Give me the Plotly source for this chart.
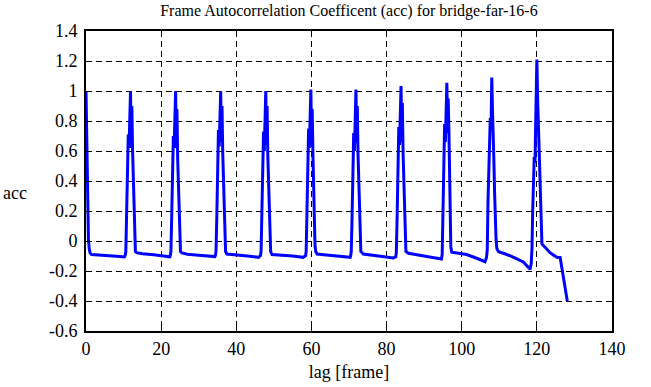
import plotly.graph_objects as go

# ---- data (lag in frames, autocorrelation coefficient) ----
lag_c0 = [0, 0.1, 0.2, 0.3, 0.4, 0.5, 0.65, 0.85, 1.1, 1.5, 3, 5, 7, 9, 10.2]
acc_c0 = [1.0, 0.81, 0.53, 0.41, 0.28, 0.14, 0.01, -0.05, -0.08, -0.09, -0.092, -0.094, -0.098, -0.104, -0.106]

lag_c12 = [10.45, 10.6, 10.8, 11.0, 11.25, 11.45, 11.65, 11.85, 12.05, 12.2, 12.4, 12.6, 12.8, 12.95, 13.15, 13.5, 15, 18, 21, 22.3]
acc_c12 = [-0.095, -0.07, 0.13, 0.42, 0.71, 0.62, 0.86, 1.0, 0.62, 0.9, 0.6, 0.38, 0.14, -0.03, -0.07, -0.078, -0.085, -0.092, -0.10, -0.105]

lag_c24 = [22.45, 22.6, 22.8, 23.0, 23.25, 23.45, 23.65, 23.85, 24.05, 24.2, 24.4, 24.6, 24.8, 24.95, 25.15, 25.5, 27, 30, 33, 34.3]
acc_c24 = [-0.095, -0.07, 0.15, 0.45, 0.7, 0.62, 0.9, 1.0, 0.62, 0.88, 0.55, 0.33, 0.12, -0.03, -0.07, -0.08, -0.088, -0.095, -0.10, -0.104]

lag_c36 = [34.45, 34.6, 34.8, 35.0, 35.25, 35.45, 35.65, 35.85, 36.05, 36.2, 36.4, 36.6, 36.8, 36.95, 37.15, 37.5, 40, 43, 45.9]
acc_c36 = [-0.097, -0.07, 0.14, 0.42, 0.74, 0.63, 0.86, 1.0, 0.66, 0.9, 0.58, 0.35, 0.12, -0.03, -0.07, -0.087, -0.092, -0.10, -0.109]

lag_c48 = [46.45, 46.6, 46.8, 47.0, 47.25, 47.45, 47.65, 47.85, 48.05, 48.2, 48.4, 48.6, 48.8, 48.95, 49.15, 49.5, 52, 55, 57.8]
acc_c48 = [-0.097, -0.07, 0.13, 0.4, 0.73, 0.6, 0.88, 1.0, 0.64, 0.9, 0.56, 0.35, 0.11, -0.03, -0.07, -0.09, -0.094, -0.10, -0.109]

lag_c60 = [58.45, 58.6, 58.8, 59.0, 59.25, 59.45, 59.65, 59.85, 60.05, 60.2, 60.4, 60.6, 60.8, 60.95, 61.15, 61.5, 64, 67, 70.3]
acc_c60 = [-0.097, -0.07, 0.15, 0.45, 0.75, 0.62, 0.9, 1.01, 0.64, 0.88, 0.58, 0.33, 0.11, -0.03, -0.07, -0.087, -0.093, -0.10, -0.109]

lag_c72 = [70.45, 70.6, 70.8, 71.0, 71.25, 71.45, 71.65, 71.85, 72.05, 72.2, 72.4, 72.6, 72.8, 72.95, 73.15, 73.8, 76, 79, 81.8]
acc_c72 = [-0.097, -0.07, 0.14, 0.43, 0.72, 0.6, 0.9, 1.01, 0.66, 0.9, 0.58, 0.35, 0.12, -0.03, -0.07, -0.087, -0.095, -0.104, -0.113]

lag_c84 = [82.45, 82.6, 82.8, 83.0, 83.25, 83.45, 83.65, 83.85, 84.05, 84.2, 84.4, 84.6, 84.8, 84.95, 85.15, 85.8, 88, 91, 94.0]
acc_c84 = [-0.105, -0.075, 0.15, 0.43, 0.76, 0.64, 0.92, 1.033, 0.66, 0.92, 0.58, 0.35, 0.12, -0.03, -0.07, -0.082, -0.092, -0.105, -0.122]

lag_c96 = [94.6, 94.8, 95.0, 95.2, 95.45, 95.65, 95.85, 96.05, 96.25, 96.4, 96.6, 96.8, 96.95, 97.1, 97.35, 99, 101.3, 104, 106.2]
acc_c96 = [-0.12, -0.09, 0.15, 0.43, 0.78, 0.66, 0.92, 1.055, 0.72, 0.95, 0.72, 0.45, 0.16, -0.04, -0.075, -0.082, -0.09, -0.115, -0.138]

lag_c108 = [106.6, 106.8, 107.0, 107.2, 107.4, 107.6, 107.8, 108.0, 108.2, 108.4, 108.55, 108.75, 108.95, 109.15, 109.35, 109.8, 111.5, 113.7, 116.4, 118.2]
acc_c108 = [-0.11, -0.06, 0.27, 0.45, 0.6, 0.82, 0.74, 1.09, 0.86, 0.72, 0.55, 0.32, 0.12, 0.007, -0.05, -0.071, -0.085, -0.107, -0.14, -0.189]

lag_c120 = [118.5, 118.7, 118.9, 119.1, 119.3, 119.5, 119.75, 120.0, 120.2, 120.4, 120.55, 120.75, 120.95, 121.15, 121.35, 122.5, 123.5, 124.5, 125.3, 126.2, 126.9, 127.5, 128.1]
acc_c120 = [-0.15, -0.05, 0.21, 0.4, 0.56, 0.52, 0.9, 1.21, 0.95, 0.76, 0.6, 0.56, 0.23, 0.03, -0.02, -0.05, -0.078, -0.095, -0.109, -0.11, -0.215, -0.282, -0.4]

lag = lag_c0 + lag_c12 + lag_c24 + lag_c36 + lag_c48 + lag_c60 + lag_c72 + lag_c84 + lag_c96 + lag_c108 + lag_c120
acc = acc_c0 + acc_c12 + acc_c24 + acc_c36 + acc_c48 + acc_c60 + acc_c72 + acc_c84 + acc_c96 + acc_c108 + acc_c120

x_ticks = [0, 20, 40, 60, 80, 100, 120, 140]
y_ticks = [-0.6, -0.4, -0.2, 0, 0.2, 0.4, 0.6, 0.8, 1, 1.2, 1.4]
y_tick_text = ["-0.6", "-0.4", "-0.2", "0", "0.2", "0.4", "0.6", "0.8", "1", "1.2", "1.4"]

title_text = "Frame Autocorrelation Coefficent (acc) for bridge-far-16-6"
x_label = "lag [frame]"
y_label = "acc"

FONT = "Liberation Serif, Times New Roman, serif"

fig = go.Figure()
fig.add_trace(go.Scatter(x=lag, y=acc, mode="lines",
                         line=dict(color="#0000ff", width=3), showlegend=False))

axis_common = dict(
    showline=True, linecolor="black", linewidth=2, mirror="allticks",
    ticks="inside", ticklen=6, tickwidth=1, tickcolor="black",
    showgrid=True, gridcolor="black", gridwidth=1, griddash="6px,4px",
    zeroline=False, automargin=False,
    tickfont=dict(family=FONT, size=18, color="black"),
)

fig.update_xaxes(range=[0, 140], tickvals=x_ticks, **axis_common,
                 title=dict(text=x_label, font=dict(family=FONT, size=18, color="black"), standoff=8))
fig.update_yaxes(range=[-0.6, 1.4], tickvals=y_ticks, ticktext=y_tick_text,
                 ticklabelstandoff=3, **axis_common)

fig.add_annotation(text=y_label, xref="paper", yref="paper", x=-0.135, y=0.46,
                   xanchor="center", yanchor="middle",
                   showarrow=False, font=dict(family=FONT, size=18, color="black"))

fig.update_layout(
    width=651, height=387,
    margin=dict(l=86, r=39, t=31, b=56, autoexpand=False),
    paper_bgcolor="white", plot_bgcolor="white",
    hovermode=False,
    title=dict(text=title_text, x=0.536, xanchor="center", yref="container",
               y=0.972, yanchor="middle",
               font=dict(family=FONT, size=16, color="black")),
)

# remove the default page margin so the figure sits at the window's top-left corner
fig.write_html("out.html", config={"displayModeBar": False, "staticPlot": True},
               post_script="document.body.style.margin='0';")
